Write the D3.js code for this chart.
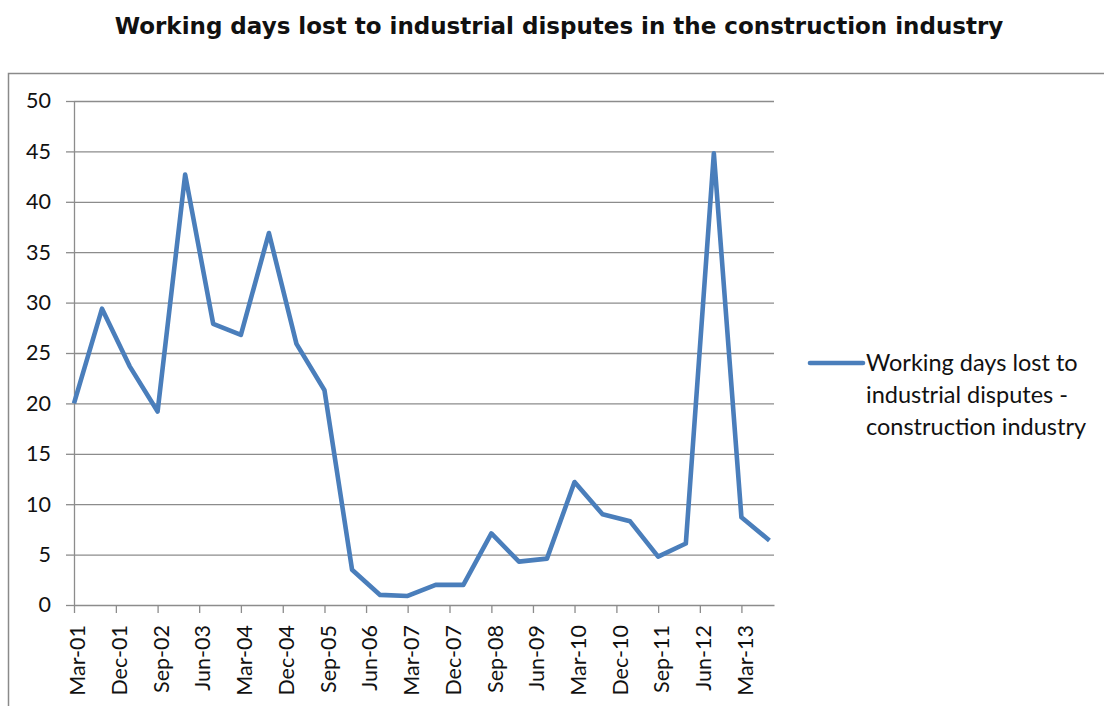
<!DOCTYPE html>
<html>
<head>
<meta charset="utf-8">
<script src="https://cdn.jsdelivr.net/npm/d3@7"></script>
<style>
  body { margin: 0; background: #fff; }
  svg { display: block; }
  .grid line { stroke: #8c8c8c; stroke-width: 1.3; }
  .grid path { display: none; }
  .axis path, .axis line { stroke: #8c8c8c; stroke-width: 1.3; }
  .axis text { font-family: Lato, sans-serif; font-size: 21.5px; fill: #111; }
</style>
</head>
<body>
<script>
// half-yearly observations, Mar-01 .. Sep-13
var periods = ["Mar-01","Sep-01","Mar-02","Sep-02","Mar-03","Sep-03","Mar-04","Sep-04",
  "Mar-05","Sep-05","Mar-06","Sep-06","Mar-07","Sep-07","Mar-08","Sep-08",
  "Mar-09","Sep-09","Mar-10","Sep-10","Mar-11","Sep-11","Mar-12","Sep-12",
  "Mar-13","Sep-13"];
var daysLost = [20.0, 29.4, 23.7, 19.2, 42.7, 27.9, 26.8, 36.9,
  25.9, 21.3, 3.5, 1.0, 0.9, 2.0, 2.0, 7.1,
  4.3, 4.6, 12.2, 9.0, 8.3, 4.8, 6.1, 44.8,
  8.7, 6.4];
// x axis labels (every 9 months)
var tickLabels = ["Mar-01","Dec-01","Sep-02","Jun-03","Mar-04","Dec-04","Sep-05","Jun-06",
  "Mar-07","Dec-07","Sep-08","Jun-09","Mar-10","Dec-10","Sep-11","Jun-12","Mar-13"];
var yTicks = [0, 5, 10, 15, 20, 25, 30, 35, 40, 45, 50];

var titleText = "Working days lost to industrial disputes in the construction industry";
var legendLines = ["Working days lost to", "industrial disputes -", "construction industry"];

var chart_width  = 1104;
var chart_height = 706;
var lineColor = "#4a7ebb";

var time_parse  = d3.utcParse("%b-%y");
var time_format = d3.utcFormat("%b-%y");

var data = periods.map(function(p, i){
  return { date: time_parse(p), value: daysLost[i] };
});
var tickDates = tickLabels.map(time_parse);

var svg = d3.select("body")
  .append("svg")
  .attr("width", chart_width)
  .attr("height", chart_height);

// title
svg.append("text")
  .attr("x", 559)
  .attr("y", 34)
  .attr("text-anchor", "middle")
  .style("font-family", "'DejaVu Sans', sans-serif")
  .style("font-weight", "bold")
  .style("font-size", "23px")
  .attr("fill", "#111")
  .text(titleText);

// chart area border (runs off the right and bottom edges)
svg.append("rect")
  .attr("x", 8.5)
  .attr("y", 73.5)
  .attr("width", 1200)
  .attr("height", 700)
  .attr("fill", "none")
  .attr("stroke", "#8a8a8a")
  .attr("stroke-width", 1.5);

// Scales
var x_scale = d3.scaleUtc()
  .domain([time_parse("Mar-01"), time_parse("Oct-13")])
  .range([74, 774]);
var y_scale = d3.scaleLinear()
  .domain([0, 50])
  .range([605, 101]);

// horizontal gridlines
svg.append("g")
  .attr("class", "grid")
  .attr("transform", "translate(74,0)")
  .call(d3.axisLeft(y_scale)
    .tickValues(yTicks.slice(1))
    .tickSize(-(774 - 74))
    .tickFormat("")
  );

// y axis
svg.append("g")
  .attr("class", "axis")
  .attr("transform", "translate(74,0)")
  .call(d3.axisLeft(y_scale)
    .tickValues(yTicks)
    .tickSize(8)
    .tickPadding(15)
    .tickSizeOuter(0)
  );

// x axis
var xAxis = svg.append("g")
  .attr("class", "axis")
  .attr("transform", "translate(0,605)")
  .call(d3.axisBottom(x_scale)
    .tickValues(tickDates)
    .tickFormat(time_format)
    .tickSize(8)
    .tickSizeOuter(0)
  );
xAxis.selectAll("text")
  .attr("text-anchor", "end")
  .attr("transform", "translate(3,20) rotate(-90)")
  .attr("x", 0)
  .attr("y", 0)
  .attr("dy", "0.36em");

// series line
var line = d3.line()
  .x(function(d){ return x_scale(d.date); })
  .y(function(d){ return y_scale(d.value); });

svg.append("path")
  .datum(data)
  .attr("fill", "none")
  .attr("stroke", lineColor)
  .attr("stroke-width", 4.6)
  .attr("stroke-linejoin", "round")
  .attr("d", line);

// legend
var legend = svg.append("g").attr("transform", "translate(810,363)");
legend.append("line")
  .attr("x1", 0).attr("x2", 53)
  .attr("y1", 0).attr("y2", 0)
  .attr("stroke", lineColor)
  .attr("stroke-width", 4.6)
  .attr("stroke-linecap", "round");
legend.selectAll("text.leg")
  .data(legendLines)
  .enter()
  .append("text")
  .attr("class", "leg")
  .attr("x", 56)
  .attr("y", function(d, i){ return i * 32; })
  .attr("dy", "0.36em")
  .style("font-family", "Lato, sans-serif")
  .style("font-size", "23.5px")
  .attr("fill", "#111")
  .text(function(d){ return d; });
</script>
</body>
</html>
